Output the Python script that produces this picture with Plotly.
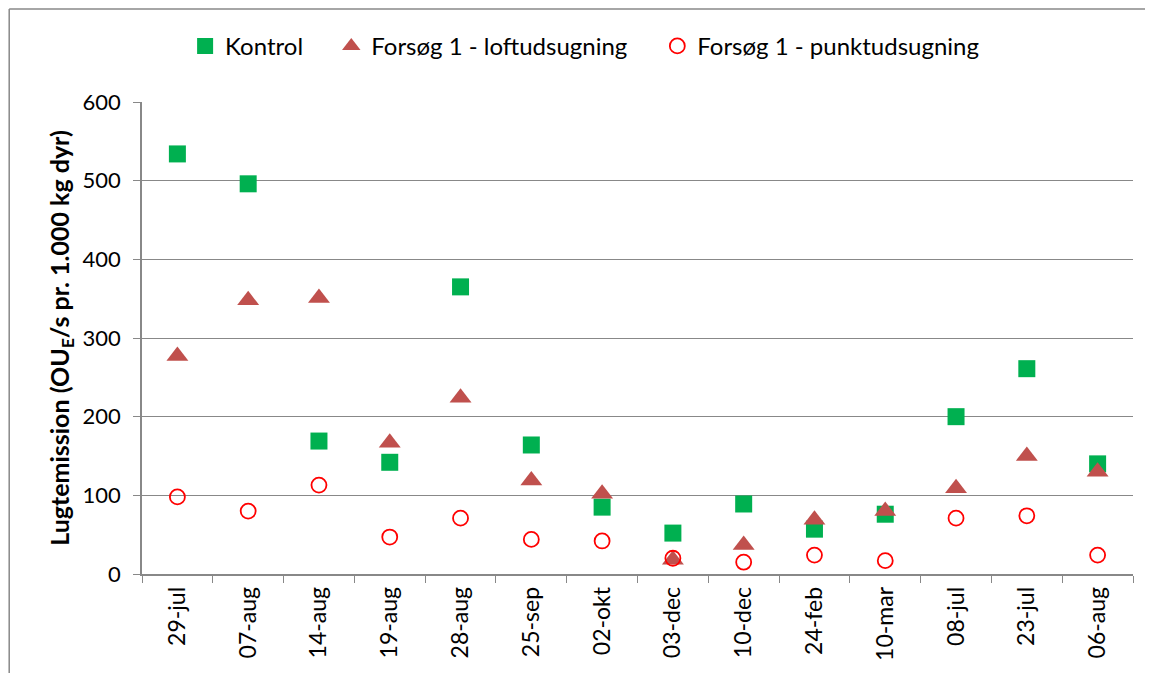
import plotly.graph_objects as go

categories = ["29-jul", "07-aug", "14-aug", "19-aug", "28-aug", "25-sep", "02-okt",
              "03-dec", "10-dec", "24-feb", "10-mar", "08-jul", "23-jul", "06-aug"]
kontrol = [534, 496, 169, 142, 365, 164, 85, 52, 89, 57, 76, 200, 261, 140]
loft = [277, 348, 351, 167, 224, 119, 102, 18, 37, 69, 80, 109, 150, 130]
punkt = [98, 80, 113, 47, 71, 44, 42, 20, 15, 24, 17, 71, 74, 24]

names = ["Kontrol", "Forsøg 1 - loftudsugning", "Forsøg 1 - punktudsugning"]
yticks = [0, 100, 200, 300, 400, 500, 600]

FONT = "Lato, 'Open Sans', sans-serif"

fig = go.Figure()
fig.add_trace(go.Scatter(x=categories, y=kontrol, mode="markers", name=names[0],
                         legend="legend",
                         marker=dict(symbol="square", size=17, color="#00B050")))
fig.add_trace(go.Scatter(x=categories, y=loft, mode="markers", name=names[1],
                         legend="legend2",
                         marker=dict(symbol="triangle-up", size=19, color="#C0504D")))
fig.add_trace(go.Scatter(x=categories, y=punkt, mode="markers", name=names[2],
                         legend="legend3",
                         marker=dict(symbol="circle-open", size=15, color="#FF0000",
                                     line=dict(width=1.8, color="#FF0000"))))

LEG_Y = 1.118
def leg(x):
    return dict(orientation="h", x=x, xanchor="left", y=LEG_Y, yanchor="middle",
                font=dict(size=24), itemsizing="trace", itemwidth=30,
                bgcolor="rgba(0,0,0,0)")

fig.update_layout(
    width=1145, height=665,
    margin=dict(l=134, r=20, t=94, b=99),
    paper_bgcolor="white", plot_bgcolor="white",
    font=dict(family=FONT, size=22, color="black"),
    showlegend=True,
    legend=leg(0.0435),
    legend2=leg(0.191),
    legend3=leg(0.52),
    xaxis=dict(type="category", tickangle=-90, ticks="outside", tickson="boundaries",
               ticklen=7, tickcolor="#888", showline=True, linecolor="#888", linewidth=1.5,
               showgrid=False, tickfont=dict(size=23), range=[-0.5, 13.5],
               ticklabelstandoff=2),
    yaxis=dict(range=[0, 600], tickvals=yticks, ticks="outside", ticklen=7, tickcolor="#888",
               showline=True, linecolor="#888", linewidth=1.5, showgrid=True,
               gridcolor="#888", gridwidth=1.2, zeroline=False, tickfont=dict(size=22),
               ticklabelstandoff=8,
               title=dict(text="<b>Lugtemission (OU<sub>E</sub>/s pr. 1.000 kg dyr)</b>",
                          font=dict(size=25), standoff=6)),
    shapes=[
        dict(type="line", xref="paper", yref="paper", x0=-0.134, x1=-0.134,
             y0=-0.4, y1=1.197, line=dict(color="#888", width=1.5)),
        dict(type="line", xref="paper", yref="paper", x0=-0.134, x1=1.2,
             y0=1.197, y1=1.197, line=dict(color="#888", width=1.5)),
    ],
)

fig.write_html("out.html")
